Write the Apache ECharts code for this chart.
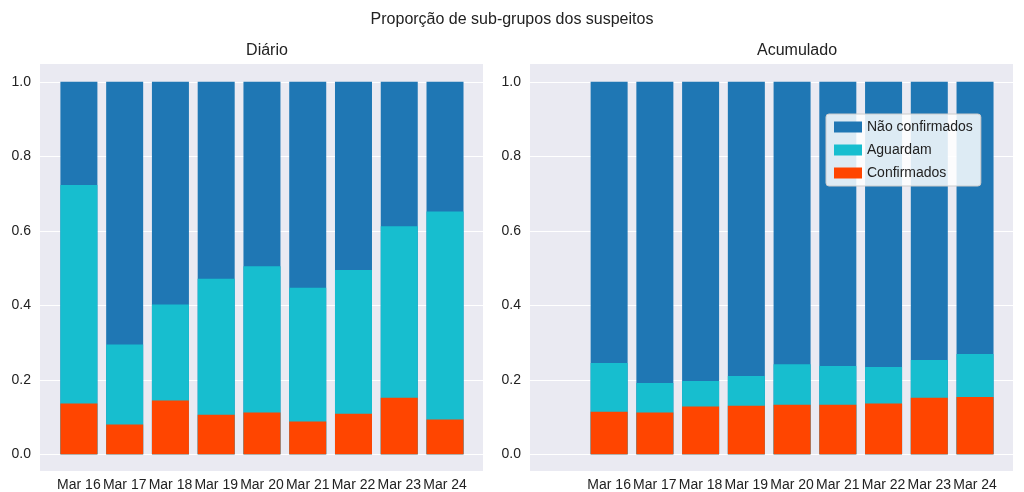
<!DOCTYPE html>
<html><head><meta charset="utf-8">
<script src="https://cdn.jsdelivr.net/npm/echarts@6/dist/echarts.min.js"></script>
<style>html,body{margin:0;padding:0;background:#fff}#c{width:1024px;height:492px}</style>
</head><body><div id="c"></div>
<script>
const categories = ['Mar 16','Mar 17','Mar 18','Mar 19','Mar 20','Mar 21','Mar 22','Mar 23','Mar 24'];
const yTicks = [0, 0.2, 0.4, 0.6, 0.8, 1.0];
// Diário: confirmed share, confirmed+awaiting share
const diarioConf = [0.136, 0.080, 0.144, 0.106, 0.112, 0.088, 0.109, 0.152, 0.093];
const diarioTop  = [0.723, 0.295, 0.402, 0.471, 0.505, 0.447, 0.495, 0.612, 0.652];
// Acumulado
const acumConf = [0.114, 0.112, 0.128, 0.130, 0.133, 0.133, 0.136, 0.152, 0.154];
const acumTop  = [0.245, 0.191, 0.197, 0.210, 0.242, 0.237, 0.234, 0.253, 0.269];

const names = ['Não confirmados','Aguardam','Confirmados'];
const colors = {'Não confirmados':'#1f77b4','Aguardam':'#17becf','Confirmados':'#ff4500'};
const F = 'Liberation Sans';

function seriesFor(conf, top, idx){
  // cumulative heights drawn from zero, later series drawn over earlier ones
  const total = top.map(()=>1);
  const mk = (name, vals, z) => ({
    name, type:'bar', xAxisIndex:idx, yAxisIndex:idx, barWidth:37, barGap:'-100%',
    itemStyle:{color:colors[name]}, data: vals.map((v,i)=>[i,v]), z
  });
  const s = [mk('Não confirmados',total,3), mk('Aguardam',top,4), mk('Confirmados',conf,5)];
  s[0].markLine = {silent:true, symbol:'none', label:{show:false}, z:1,
    lineStyle:{color:'#fff', width:1.2, type:'solid'}, data: yTicks.map(v=>({yAxis:v}))};
  return s;
}
const grids = [{left:40, right:541, top:64, bottom:17}, {left:530, right:11, top:64, bottom:17}];
const xr = [[-0.85, 8.83], [-1.73, 8.83]];
const chart = echarts.init(document.getElementById('c'));
chart.setOption({
  animation:false,
  title:[
    {text:'Proporção de sub-grupos dos suspeitos', left:'center', top:7, textStyle:{fontFamily:F, fontSize:16, fontWeight:'normal', color:'#222'}},
    {text:'Diário', left:262, textAlign:'center', top:38, textStyle:{fontFamily:F, fontSize:16, fontWeight:'normal', color:'#222'}},
    {text:'Acumulado', left:792, textAlign:'center', top:38, textStyle:{fontFamily:F, fontSize:16, fontWeight:'normal', color:'#222'}}
  ],
  legend:{data:names, orient:'vertical', left:826, top:114, itemWidth:28, itemHeight:11, itemGap:9,
    backgroundColor:'rgba(255,255,255,0.85)', borderColor:'#ccc', borderWidth:1, borderRadius:3, padding:[6,8],
    textStyle:{fontFamily:F, fontSize:14, color:'#222'}, icon:'rect'},
  grid: grids.map(g=>Object.assign({show:true, backgroundColor:'#eaeaf2', borderWidth:0}, g)),
  xAxis:[0,1].map(i=>({type:'value', gridIndex:i, min:xr[i][0], max:xr[i][1],
    axisLine:{show:false}, axisTick:{show:false}, splitLine:{show:false},
    axisLabel:{customValues:[0,1,2,3,4,5,6,7,8], formatter:v=>categories[Math.round(v)]||'', fontFamily:F, fontSize:14, color:'#222', margin:7}})),
  yAxis:[0,1].map(i=>({type:'value', gridIndex:i, min:-0.045, max:1.048,
    axisLine:{show:false}, axisTick:{show:false}, splitLine:{show:false},
    axisLabel:{customValues:yTicks, formatter:v=>v.toFixed(1), fontFamily:F, fontSize:14, color:'#222', margin:9}})),
  series:[...seriesFor(diarioConf, diarioTop, 0), ...seriesFor(acumConf, acumTop, 1)]
});
</script></body></html>
